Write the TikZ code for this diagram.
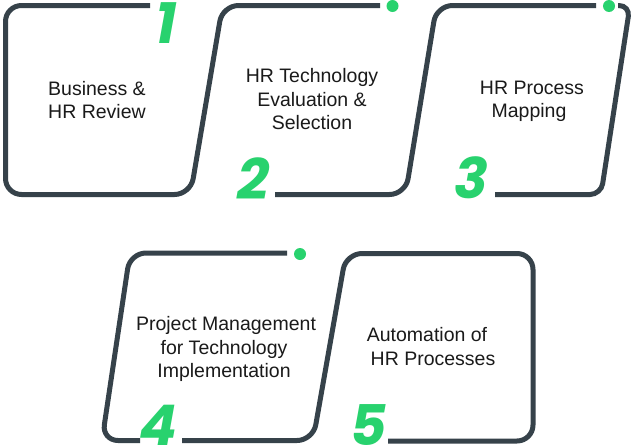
\documentclass[tikz,border=0pt]{standalone}
\usepackage{fontspec}
\setmainfont{Liberation Sans}
\newfontfamily\digitfont[FakeSlant=0.18]{Poppins}
\definecolor{linecol}{HTML}{36424A}
\definecolor{greencol}{HTML}{28D26E}
\definecolor{txtcol}{HTML}{1A1A1A}
\begin{document}
\begin{tikzpicture}[x=1pt,y=-1pt,
  outline/.style={draw=linecol, line width=5pt, rounded corners=16pt},
  dotmark/.style={fill=greencol},
  txt/.style={font=\fontsize{19.5}{23.5}\selectfont, text=txtcol, inner sep=0pt, anchor=base},
  numtxt/.style={font=\digitfont\bfseries\fontsize{56}{56}\selectfont, text=greencol, inner sep=0pt, anchor=base}]
\useasboundingbox (0,0) rectangle (634,447);
\fill[white] (0,0) rectangle (634,447);

% row 1 outlines
\draw[outline] (150,5.5) -- (5.5,5.5) -- (5.5,194.5) -- (190.5,194.5) -- (222.5,5.5) -- (380,5.5);
\fill[dotmark] (392.5,6) circle (6);
\draw[outline] (275,194.5) -- (405.5,194.5) -- (436.5,5.5) -- (596,5.5);
\fill[dotmark] (609,6) circle (6);
\draw[outline, rounded corners=11pt] (618,5.5) -- (630,5.5) -- (601,194.5) -- (495,194.5);

% row 2 outlines
\draw[outline] (140,440.5) -- (102,440.5) -- (130,253) -- (287,253);
\fill[dotmark] (300,254) circle (6);
\draw[outline] (182,440.5) -- (313,440.5) -- (346,253.5) -- (533,253.5) -- (533,441) -- (388,441);

% digits
\node[numtxt] (n1) at (163,43) {1};
\node[numtxt] (n2) at (250,199) {2};
\node[numtxt] (n3) at (468,198) {3};
\node[numtxt] (n4) at (155,445) {4};
\node[numtxt] (n5) at (366,445) {5};

% texts
\node[txt] (t1a) at (97,95.7) {Business \&};
\node[txt] (t1b) at (97,118.3) {HR Review};
\node[txt] (t2a) at (312,82.3) {HR Technology};
\node[txt] (t2b) at (312,106) {Evaluation \&};
\node[txt] (t2c) at (312,129.3) {Selection};
\node[txt] (t3a) at (532,94.3) {HR Process};
\node[txt] (t3b) at (529,117.3) {Mapping};
\node[txt] (t4a) at (226,330.7) {Project Management};
\node[txt] (t4b) at (224,354) {for Technology};
\node[txt] (t4c) at (224,377.3) {Implementation};
\node[txt] (t5a) at (427,341.7) {Automation of};
\node[txt] (t5b) at (433,365) {HR Processes};
\end{tikzpicture}
\end{document}
